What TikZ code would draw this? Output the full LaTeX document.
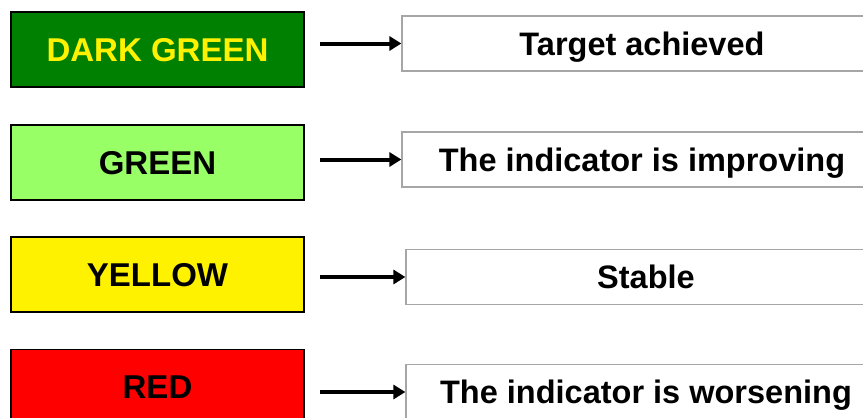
\documentclass[tikz,border=0pt]{standalone}
\usepackage{fontspec}
\setmainfont{Liberation Sans}
\usetikzlibrary{arrows.meta}

\definecolor{darkgr}{HTML}{008000}
\definecolor{lightgr}{HTML}{99FF66}
\definecolor{boxgray}{HTML}{A6A6A6}

\begin{document}
\begin{tikzpicture}[x=1pt, y=1pt,
  colbox/.style={draw=black, line width=1.3pt, minimum width=293pt, minimum height=75pt,
    inner sep=0pt, text height=23pt, text depth=0pt, font=\fontsize{33}{38}\selectfont\bfseries},
  meanbox/.style={draw=boxgray, line width=1.2pt, fill=white, minimum width=480pt, minimum height=55pt,
    inner sep=0pt, text height=23pt, text depth=0pt, font=\fontsize{32.5}{38}\selectfont\bfseries},
  arr/.style={line width=4pt, -{Triangle[length=12pt, width=14pt]}}]

  \useasboundingbox (0,0) rectangle (863,-418);

  \node[colbox, fill=darkgr, text=yellow] (dkgreen) at (157.5, -49.5) {DARK GREEN};
  \node[colbox, fill=lightgr] (green) at (157.5, -162.5) {GREEN};
  \node[colbox, fill=yellow] (yellow) at (157.5, -274.5) {YELLOW};
  \node[colbox, fill=red] (red) at (157.5, -387) {RED};

  \node[meanbox] (target) at (642, -43.5) {Target achieved};
  \node[meanbox] (improve) at (642, -159.5) {The indicator is improving};
  \node[meanbox] (stable) at (646, -277) {Stable};
  \node[meanbox] (worse) at (646, -392) {The indicator is worsening};

  \coordinate (s1) at (320, -43.5);
  \coordinate (s2) at (320, -159.5);
  \coordinate (s3) at (320, -277);
  \coordinate (s4) at (320, -392);

  \draw[arr] (s1) -- (target.west);
  \draw[arr] (s2) -- (improve.west);
  \draw[arr] (s3) -- (stable.west);
  \draw[arr] (s4) -- (worse.west);
\end{tikzpicture}
\end{document}
